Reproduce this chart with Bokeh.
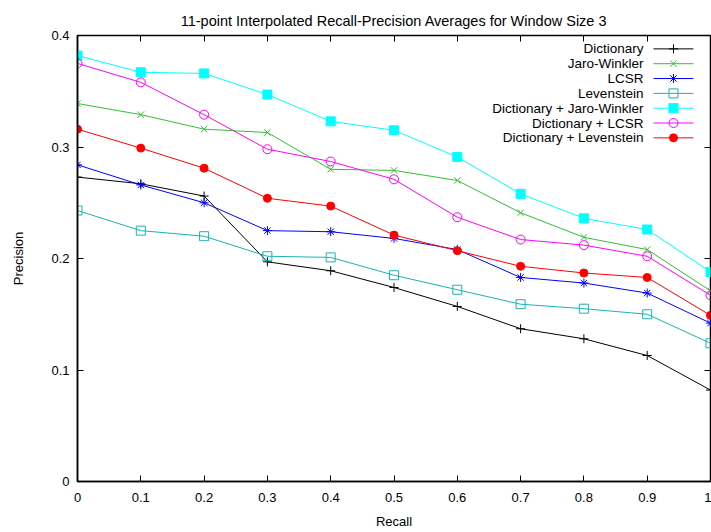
from bokeh.plotting import figure
from bokeh.models import Range1d, FixedTicker, LinearAxis
from bokeh.embed import file_html
from bokeh.resources import INLINE
from bokeh.core.properties import value

# ---------------- data ----------------
recall = [0.0, 0.1, 0.2, 0.3, 0.4, 0.5, 0.6, 0.7, 0.8, 0.9, 1.0]
dictionary = [0.273, 0.267, 0.256, 0.197, 0.189, 0.174, 0.157, 0.137, 0.128, 0.113, 0.082]
jaro_winkler = [0.339, 0.329, 0.316, 0.313, 0.280, 0.279, 0.270, 0.241, 0.219, 0.208, 0.171]
lcsr = [0.284, 0.266, 0.250, 0.225, 0.224, 0.218, 0.208, 0.183, 0.178, 0.169, 0.142]
levenstein = [0.243, 0.225, 0.220, 0.202, 0.201, 0.185, 0.172, 0.159, 0.155, 0.150, 0.124]
dict_jaro_winkler = [0.382, 0.367, 0.366, 0.347, 0.323, 0.315, 0.291, 0.258, 0.236, 0.226, 0.188]
dict_lcsr = [0.375, 0.358, 0.329, 0.298, 0.287, 0.271, 0.237, 0.217, 0.212, 0.202, 0.167]
dict_levenstein = [0.316, 0.299, 0.281, 0.254, 0.247, 0.221, 0.207, 0.193, 0.187, 0.183, 0.149]

series_names = ["Dictionary", "Jaro-Winkler", "LCSR", "Levenstein",
                "Dictionary + Jaro-Winkler", "Dictionary + LCSR", "Dictionary + Levenstein"]
series_values = [dictionary, jaro_winkler, lcsr, levenstein,
                 dict_jaro_winkler, dict_lcsr, dict_levenstein]

x_ticks = [0.0, 0.1, 0.2, 0.3, 0.4, 0.5, 0.6, 0.7, 0.8, 0.9, 1.0]
x_tick_labels = ["0", "0.1", "0.2", "0.3", "0.4", "0.5", "0.6", "0.7", "0.8", "0.9", "1"]
y_ticks = [0.0, 0.1, 0.2, 0.3, 0.4]
y_tick_labels = ["0", "0.1", "0.2", "0.3", "0.4"]

title_text = "11-point Interpolated Recall-Precision Averages for Window Size 3"
x_label = "Recall"
y_label = "Precision"

# ---------------- styles ----------------
FONT = "Liberation Sans"
colors = ["#000000", "#33c033", "#0000ff", "#1ab3b3", "#00ffff", "#ff00ff", "#ff0000"]
markers = ["cross", "x", "asterisk", "square", "square", "circle", "circle"]
filled = [True, True, True, False, True, False, True]
msizes = [9, 9, 9, 9, 9, 9, 8]

p = figure(width=711, height=532, output_backend="svg", toolbar_location=None,
           x_range=Range1d(0, 1), y_range=Range1d(0, 0.4),
           min_border_left=77, min_border_right=1, min_border_top=35, min_border_bottom=51)

p.title.text = title_text
p.title.align = "center"
p.title.text_font = FONT
p.title.text_font_size = "14.5px"
p.title.text_font_style = "normal"
p.title.text_color = "#000000"
p.title.standoff = 14

p.grid.visible = False
p.outline_line_color = "black"
p.outline_line_width = 1.5
p.outline_line_alpha = 1.0
p.background_fill_color = "white"
p.border_fill_color = "white"

xa = p.xaxis[0]
xa.ticker = FixedTicker(ticks=x_ticks)
xa.major_label_overrides = {t: l for t, l in zip(x_ticks, x_tick_labels)}
ya = p.yaxis[0]
ya.ticker = FixedTicker(ticks=y_ticks)
ya.major_label_overrides = {t: l for t, l in zip(y_ticks, y_tick_labels)}
for ax in (xa, ya):
    ax.major_tick_in = 6
    ax.major_tick_out = 0
    ax.minor_tick_line_color = None
    ax.axis_line_color = "black"
    ax.axis_line_width = 1.5
    ax.major_tick_line_color = "black"
    ax.major_tick_line_width = 1
    ax.major_label_text_font = FONT
    ax.major_label_text_font_size = "13px"
    ax.major_label_text_color = "black"
    ax.axis_label_text_font = FONT
    ax.axis_label_text_font_size = "13px"
    ax.axis_label_text_font_style = "normal"
    ax.axis_label_text_color = "black"
xa.axis_label = x_label
ya.axis_label = y_label
xa.major_label_standoff = 11
xa.axis_label_standoff = 9
ya.major_label_standoff = 8
ya.axis_label_standoff = 22

top = LinearAxis(ticker=FixedTicker(ticks=x_ticks),
                 major_label_overrides={t: "" for t in x_ticks},
                 major_label_text_font_size="0px", major_label_standoff=0,
                 major_tick_in=6, major_tick_out=0, minor_tick_line_color=None,
                 axis_line_color=None)
p.add_layout(top, "above")
right = LinearAxis(ticker=FixedTicker(ticks=y_ticks),
                   major_label_overrides={t: "" for t in y_ticks},
                   major_label_text_font_size="0px", major_label_standoff=0,
                   major_tick_in=6, major_tick_out=0, minor_tick_line_color=None,
                   axis_line_color=None)
p.add_layout(right, "right")

for vals, c, m, f, s in zip(series_values, colors, markers, filled, msizes):
    p.line(recall, vals, line_color=c, line_width=1)
    p.scatter(recall, vals, marker=m, size=s, line_color=c, line_width=1,
              fill_color=(c if f else None))

# ---------------- legend (gnuplot style: text, then sample) ----------------
leg_text_x = 0.894
leg_line_x0 = 0.910
leg_line_x1 = 0.973
leg_top_y = 0.388
leg_step = 0.0133
for i, (name, c, m, f, s) in enumerate(zip(series_names, colors, markers, filled, msizes)):
    yy = leg_top_y - i * leg_step
    p.text(x=[leg_text_x], y=[yy], text=[name], text_align="right", text_baseline="middle",
           text_font=value(FONT), text_font_size="13.5px", text_color="black")
    p.line([leg_line_x0, leg_line_x1], [yy, yy], line_color=c, line_width=1)
    p.scatter([(leg_line_x0 + leg_line_x1) / 2], [yy], marker=m, size=s, line_color=c,
              line_width=1, fill_color=(c if f else None))

open("out.html", "w").write(file_html(p, INLINE))
